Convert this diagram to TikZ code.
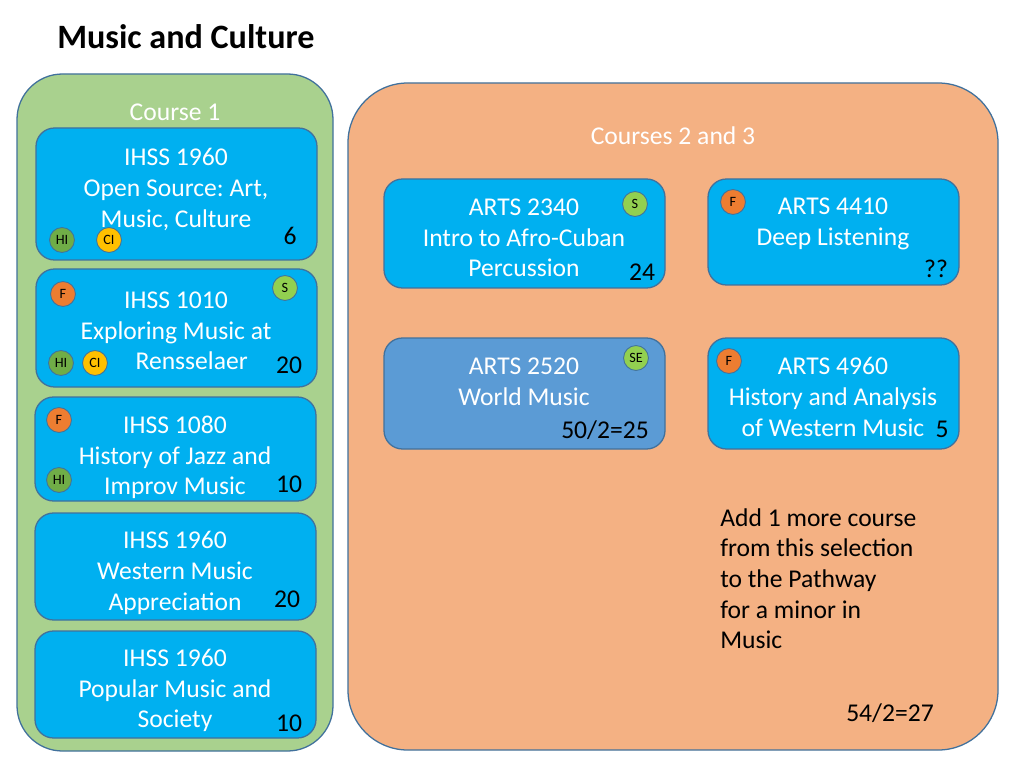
\documentclass[tikz,border=0pt]{standalone}
\usepackage{fontspec}
\setmainfont{Carlito}
\frenchspacing
\definecolor{bord}{HTML}{41719C}
\definecolor{greenbg}{HTML}{A9D18E}
\definecolor{orangebg}{HTML}{F4B183}
\definecolor{cyanbox}{HTML}{00B0F0}
\definecolor{bluebox}{HTML}{5B9BD5}
\definecolor{hicol}{HTML}{70AD47}
\definecolor{scol}{HTML}{92D050}
\definecolor{cicol}{HTML}{FFC000}
\definecolor{fcol}{HTML}{ED7D31}
\newcommand\mkbox[6]{%
  \node[#6, minimum width={(#4-#2)*0.703125pt}, minimum height={(#5-#3)*0.703125pt}]
    (#1) at ({(#2+#4)/2},{(#3+#5)/2}) {};}
\begin{document}
\begin{tikzpicture}[x=0.703125pt,y=-0.703125pt,
  panel/.style={draw=bord, line width=0.9pt, rectangle, inner sep=0pt, outer sep=0pt},
  greenpanel/.style={panel, fill=greenbg, rounded corners=32pt},
  orangepanel/.style={panel, fill=orangebg, rounded corners=42pt},
  course/.style={panel, fill=cyanbox, rounded corners=13pt},
  coursedark/.style={panel, fill=bluebox, rounded corners=13pt},
  ctext/.style={text=white, font=\fontsize{18}{21.6}\selectfont, align=center, inner sep=0pt},
  numtext/.style={text=black, font=\fontsize{18}{21.6}\selectfont, inner sep=0pt},
  hdr/.style={text=white, font=\fontsize{18}{21.6}\selectfont, inner sep=0pt},
  badge/.style={circle, draw=bord, line width=0.6pt, minimum size=17.5pt, inner sep=0pt,
    font=\fontsize{10}{11}\selectfont, text=black},
  hi/.style={badge, fill=hicol},
  sb/.style={badge, fill=scol},
  ci/.style={badge, fill=cicol},
  fb/.style={badge, fill=fcol},
  note/.style={text=black, font=\fontsize{18}{21.6}\selectfont, align=left, inner sep=0pt}
]
\useasboundingbox[fill=white] (0,0) rectangle (1024,768);

% title
\node[anchor=west, inner sep=0pt, font=\fontsize{24}{28}\bfseries\selectfont] (title) at (57,37) {Music and Culture};

% panels
\mkbox{green}{17}{74}{333}{751}{greenpanel}
\mkbox{orange}{348}{83}{998}{750}{orangepanel}
\node[hdr] (h1) at (175,112) {Course 1};
\node[hdr] (h2) at (673,136) {Courses 2 and 3};

% course 1 boxes
\mkbox{b1}{36}{128}{317}{260}{course}
\mkbox{b2}{36}{269}{317}{387}{course}
\mkbox{b3}{35}{397}{316}{501}{course}
\mkbox{b4}{35}{513}{316}{620}{course}
\mkbox{b5}{35}{631}{316}{738}{course}

\node[ctext] (t1) at (176,189.5) {IHSS 1960\\Open Source: Art,\\Music, Culture};
\node[numtext] (n1) at (290,236) {6};
\node[hi] (b1hi) at (62,240) {HI};
\node[ci] (b1ci) at (109,240) {CI};

\node[ctext] (t2) at (176,331) {IHSS 1010\\Exploring Music at\\\hspace*{22pt}Rensselaer};
\node[numtext] (n2) at (289,365) {20};
\node[fb] (b2f) at (63,294) {F};
\node[sb] (b2s) at (285,288) {S};
\node[hi] (b2hi) at (61,363) {HI};
\node[ci] (b2ci) at (95,363) {CI};

\node[ctext] (t3) at (175,457.5) {IHSS 1080\\History of Jazz and\\Improv Music};
\node[numtext] (n3) at (289,484) {10};
\node[fb] (b3f) at (59,420) {F};
\node[hi] (b3hi) at (59,480) {HI};

\node[ctext] (t4) at (175,573) {IHSS 1960\\Western Music\\Appreciation};
\node[numtext] (n4) at (287,599) {20};

\node[ctext] (t5) at (175,690.5) {IHSS 1960\\Popular Music and\\Society};
\node[numtext] (n5) at (289,723) {10};

% courses 2 and 3
\mkbox{a1}{384}{179}{665}{288}{course}
\mkbox{a2}{708}{179}{959}{285}{course}
\mkbox{a3}{384}{338}{665}{449}{coursedark}
\mkbox{a4}{708}{338}{959}{449}{course}

\node[ctext] (at1) at (524,238) {ARTS 2340\\Intro to Afro-Cuban\\Percussion};
\node[numtext] (an1) at (642,272) {24};
\node[sb] (a1s) at (635,204) {S};

\node[ctext] (at2) at (833,224) {ARTS 4410\\Deep Listening};
\node[numtext] (an2) at (936,269) {??};
\node[fb] (a2f) at (733,202) {F};

\node[ctext] (at3) at (524,382) {ARTS 2520\\World Music};
\node[numtext] (an3) at (605,430) {50/2=25};
\node[sb] (a3s) at (636,358) {SE};

\node[ctext] (at4) at (833,397) {ARTS 4960\\History and Analysis\\of Western Music};
\node[numtext] (an4) at (942,429) {5};
\node[fb] (a4f) at (729,361) {F};

\node[note, anchor=north west] (note) at (720,508) {Add 1 more course\\from this selection\\to the Pathway\\for a minor in\\Music};
\node[numtext] (total) at (890,713) {54/2=27};
\end{tikzpicture}
\end{document}
